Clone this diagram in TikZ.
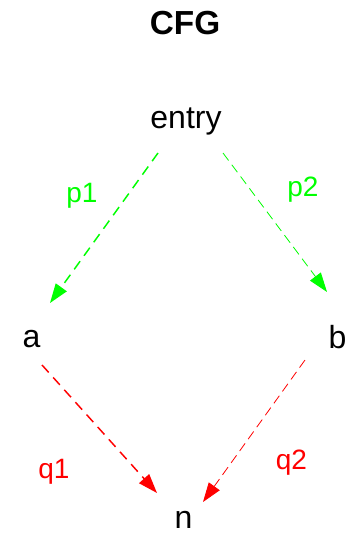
\documentclass[tikz,border=0pt]{standalone}
\usepackage{fontspec}
\setsansfont{Liberation Sans}
\usepackage{xcolor}
\usepackage{tikz}
\usetikzlibrary{arrows.meta}

\begin{document}
\begin{tikzpicture}[x=0.75pt, y=-0.75pt, every node/.style={font=\sffamily\fontsize{21}{24}\selectfont, inner sep=0pt, anchor=base},
    vert/.style={font=\sffamily\fontsize{24}{28}\selectfont},
    heavy/.style={line width=1.1pt, dash pattern=on 7.5pt off 5pt, -{Triangle[length=14.5pt,width=10pt]}},
    light/.style={line width=0.6pt, dash pattern=on 7pt off 4pt, -{Triangle[length=14.5pt,width=10pt]}}]
  \useasboundingbox (0,0) rectangle (350,535);
  \node[font=\sffamily\bfseries\fontsize{25}{28}\selectfont] (title) at (185,35) {CFG};
  \node[vert] (entry) at (186,128) {entry};
  \node[vert] (a) at (31.5,347) {a};
  \node[vert] (b) at (337.5,348) {b};
  \node[vert] (n) at (183.5,528) {n};
  \node[green] (p1) at (82,202) {p1};
  \node[green] (p2) at (303,196) {p2};
  \node[red] (q1) at (54,478) {q1};
  \node[red] (q2) at (291.5,469) {q2};
  \draw[heavy, green] ([shift={(-28,25)}]entry.base) -- ([shift={(18.5,-44)}]a.base);
  \draw[light, green] ([shift={(37,25)}]entry.base) -- ([shift={(-10.5,-56)}]b.base);
  \draw[heavy, red] ([shift={(10.5,18)}]a.base) -- ([shift={(-26.5,-35)}]n.base);
  \draw[light, red] ([shift={(-32.5,12)}]b.base) -- ([shift={(19.5,-26)}]n.base);
\end{tikzpicture}
\end{document}
